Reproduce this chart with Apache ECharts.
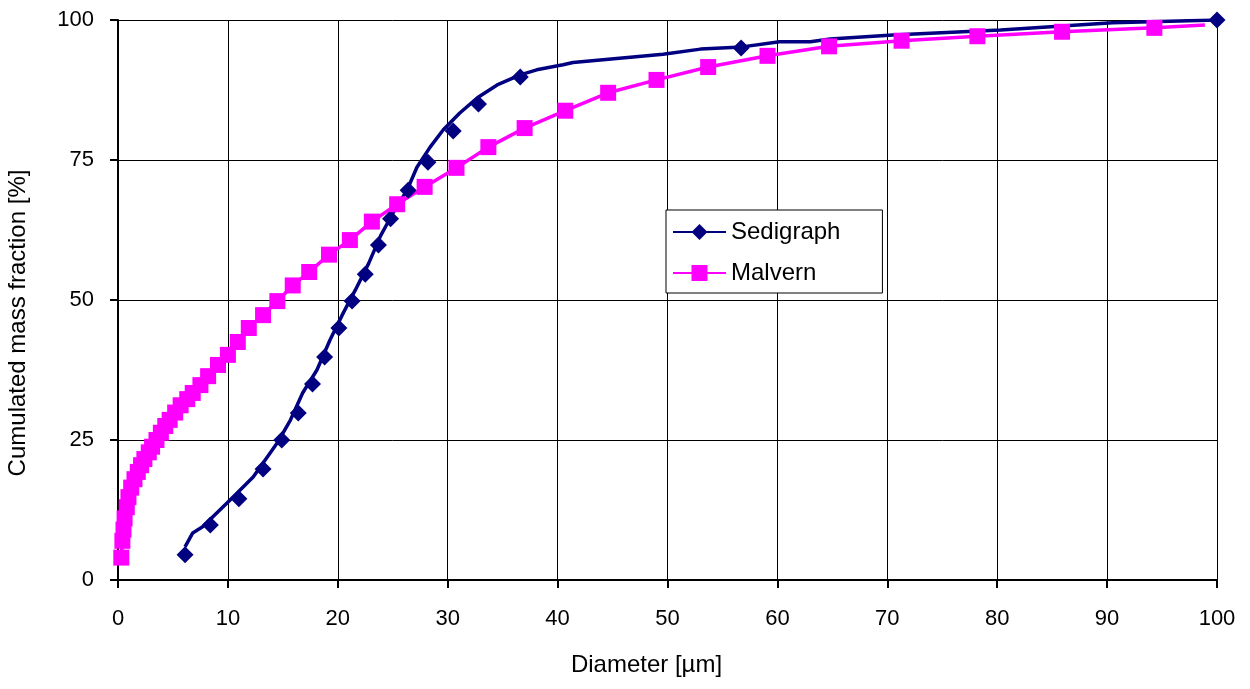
<!DOCTYPE html>
<html>
<head>
<meta charset="utf-8">
<script src="https://cdn.jsdelivr.net/npm/echarts@6/dist/echarts.min.js"></script>
<style>
  html, body { margin: 0; padding: 0; background: #ffffff; }
  #chart { width: 1250px; height: 689px; }
</style>
</head>
<body>
<div id="chart"></div>
<script>
// Sedigraph: measured cumulative curve (diameter in µm, cumulated mass in %)
const sedigraphCurveD = [6.1, 6.8, 7.7, 10.2, 12.3, 14.5, 15.7, 16.8, 18.1, 19.3, 20.5, 21.6, 22.8, 23.9, 25.1, 26.3, 27.2, 28.4, 29.6, 31.1, 32.7, 34.5, 36.6, 38.1, 40.5, 41.4, 49.6, 53.0, 56.8, 60.2, 63.0, 64.8, 70.5, 80.3, 90.5, 100];
const sedigraphCurveV = [5.9, 8.4, 9.5, 14.3, 18.4, 24.5, 28.6, 33.4, 37.5, 42.9, 47.7, 51.8, 56.5, 61.5, 65.8, 69.6, 73.7, 77.3, 80.4, 83.4, 86.1, 88.4, 90.2, 91.1, 92.0, 92.4, 93.9, 94.8, 95.2, 96.1, 96.1, 96.6, 97.3, 98.2, 99.5, 100];

// Sedigraph: marked points
const sedigraphMarkD = [6.1, 8.4, 11.0, 13.2, 14.9, 16.4, 17.7, 18.8, 20.1, 21.3, 22.5, 23.7, 24.8, 26.4, 28.2, 30.5, 32.8, 36.6, 56.7, 100];
const sedigraphMarkV = [4.5, 9.8, 14.5, 19.8, 25.0, 29.8, 35.0, 39.8, 45.0, 49.8, 54.6, 59.8, 64.5, 69.6, 74.6, 80.2, 85.0, 89.8, 95.0, 100];

// Malvern: size classes and cumulated mass
const malvernD = [0.3, 0.4, 0.5, 0.6, 0.8, 0.95, 1.2, 1.5, 1.8, 2.1, 2.4, 2.8, 3.1, 3.5, 3.9, 4.3, 4.7, 5.2, 5.7, 6.3, 6.8, 7.5, 8.2, 9.1, 10.0, 10.9, 11.9, 13.2, 14.5, 15.9, 17.4, 19.2, 21.1, 23.1, 25.4, 27.9, 30.8, 33.7, 37.0, 40.7, 44.6, 49.0, 53.7, 59.1, 64.7, 71.3, 78.2, 85.9, 94.3];
const malvernV = [4.0, 7.0, 9.0, 11.0, 13.0, 14.8, 16.5, 18.0, 19.3, 20.5, 21.6, 22.8, 23.8, 25.0, 26.3, 27.5, 28.6, 29.9, 31.2, 32.3, 33.4, 34.8, 36.4, 38.4, 40.2, 42.5, 45.0, 47.3, 49.8, 52.6, 55.0, 58.1, 60.7, 64.0, 67.1, 70.2, 73.6, 77.3, 80.7, 83.8, 87.0, 89.3, 91.6, 93.6, 95.3, 96.3, 97.1, 97.9, 98.6];
// Malvern curve continues past the last marked class
const malvernTailD = [98.9];
const malvernTailV = [99.1];

const xTicks = { min: 0, max: 100, step: 10 };
const yTicks = { min: 0, max: 100, step: 25 };

const SEDI_COLOR = '#000080';
const MALV_COLOR = '#ff00ff';
const FONT = 'Liberation Sans, Arial, sans-serif';

const pairs = (xs, ys) => xs.map((x, i) => [x, ys[i]]);

const chart = echarts.init(document.getElementById('chart'), null, { renderer: 'canvas' });

chart.setOption({
  animation: false,
  backgroundColor: '#ffffff',
  textStyle: { fontFamily: FONT, color: '#000' },
  grid: { left: 118, right: 33, top: 20, bottom: 109, containLabel: false, outerBoundsMode: 'none' },
  legend: {
    data: ['Sedigraph', 'Malvern'],
    orient: 'vertical',
    left: 666,
    top: 210,
    padding: [10, 42, 8, 6],
    itemWidth: 53,
    itemHeight: 20,
    itemGap: 17,
    backgroundColor: '#ffffff',
    borderColor: '#000000',
    borderWidth: 1,
    borderRadius: 0,
    textStyle: { fontSize: 24, color: '#000', fontFamily: FONT },
    selectedMode: false
  },
  xAxis: {
    type: 'value',
    min: xTicks.min, max: xTicks.max, interval: xTicks.step,
    name: 'Diameter [µm]',
    nameLocation: 'middle',
    nameGap: 73,
    nameTextStyle: { fontSize: 24, color: '#000', fontFamily: FONT, padding: [0, 42, 0, 0] },
    axisLine: { onZero: false, lineStyle: { color: '#000', width: 2 } },
    axisTick: { show: true, inside: false, length: 8, lineStyle: { color: '#000', width: 2 } },
    axisLabel: { fontSize: 22, color: '#000', margin: 28, fontFamily: FONT },
    splitLine: { show: true, lineStyle: { color: '#000', width: 1 } }
  },
  yAxis: {
    type: 'value',
    min: yTicks.min, max: yTicks.max, interval: yTicks.step,
    name: 'Cumulated mass fraction [%]',
    nameLocation: 'middle',
    nameGap: 88,
    nameRotate: 90,
    nameTextStyle: { fontSize: 24, color: '#000', fontFamily: FONT, padding: [0, 46, 0, 0] },
    axisLine: { onZero: false, lineStyle: { color: '#000', width: 2 } },
    axisTick: { show: true, inside: false, length: 8, lineStyle: { color: '#000', width: 2 } },
    axisLabel: { fontSize: 22, color: '#000', margin: 24, fontFamily: FONT },
    splitLine: { show: true, lineStyle: { color: '#000', width: 1 } }
  },
  series: [
    {
      name: 'Sedigraph',
      type: 'line',
      data: pairs(sedigraphCurveD, sedigraphCurveV),
      symbol: 'diamond',
      showSymbol: false,
      smooth: false,
      color: SEDI_COLOR,
      lineStyle: { color: SEDI_COLOR, width: 3.5 },
      itemStyle: { color: SEDI_COLOR },
      z: 2
    },
    {
      name: 'Malvern',
      type: 'line',
      data: pairs(malvernD.concat(malvernTailD), malvernV.concat(malvernTailV)),
      symbol: 'rect',
      showSymbol: false,
      smooth: false,
      color: MALV_COLOR,
      lineStyle: { color: MALV_COLOR, width: 3.5 },
      itemStyle: { color: MALV_COLOR },
      z: 2
    },
    {
      name: 'Sedigraph markers',
      type: 'scatter',
      data: pairs(sedigraphMarkD, sedigraphMarkV),
      symbol: 'diamond',
      symbolSize: 17,
      clip: false,
      itemStyle: { color: SEDI_COLOR, opacity: 1 },
      z: 3
    },
    {
      name: 'Malvern markers',
      type: 'scatter',
      data: pairs(malvernD, malvernV),
      symbol: 'rect',
      symbolSize: 16,
      clip: false,
      itemStyle: { color: MALV_COLOR, opacity: 1 },
      z: 4
    }
  ]
});
</script>
</body>
</html>
